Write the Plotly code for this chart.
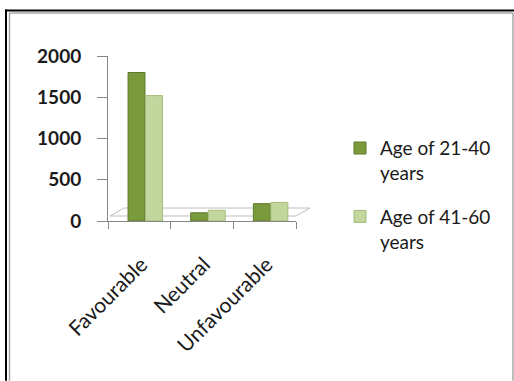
import plotly.graph_objects as go

categories = ["Favourable", "Neutral", "Unfavourable"]
series_names = ["Age of 21-40<br>years", "Age of 41-60<br>years"]
age_21_40 = [1800, 100, 210]
age_41_60 = [1520, 130, 225]
y_ticks = [0, 500, 1000, 1500, 2000]

W, H = 514, 381
L, R, T, B = 108, 296, 55.7, 221  # plot area in pixels

def px(x):
    return (x - L) / (R - L)

def py(y):
    return (B - y) / (B - T)

fig = go.Figure()
fig.add_trace(go.Bar(
    x=categories, y=age_21_40, name=series_names[0], legendgroup="g1",
    marker=dict(color="#7A9A3C", line=dict(color="#5E7A2C", width=1)),
    offset=-0.18, width=0.27,
))
fig.add_trace(go.Bar(
    x=categories, y=age_41_60, name=series_names[1], legendgroup="g2",
    marker=dict(color="#C2D69E", line=dict(color="#A3BC7C", width=1)),
    offset=0.10, width=0.27,
))

shapes = [
    # 3D floor
    dict(type="path", xref="paper", yref="paper", layer="below",
         path=f"M {px(110)},{py(216)} L {px(124)},{py(208)} L {px(310)},{py(208)} L {px(296)},{py(216)} Z",
         line=dict(color="#BFBFBF", width=1), fillcolor="white"),
    # outer black frame
    dict(type="line", xref="paper", yref="paper", x0=px(5), x1=px(514), y0=py(10), y1=py(10),
         line=dict(color="black", width=2)),
    dict(type="line", xref="paper", yref="paper", x0=px(6), x1=px(6), y0=py(9), y1=py(381),
         line=dict(color="black", width=2)),
    # inner gray frame
    dict(type="line", xref="paper", yref="paper", x0=px(9.5), x1=px(513), y0=py(12.5), y1=py(12.5),
         line=dict(color="#A6A6A6", width=1.5)),
    dict(type="line", xref="paper", yref="paper", x0=px(9.5), x1=px(9.5), y0=py(12.5), y1=py(381),
         line=dict(color="#A6A6A6", width=1.5)),
    dict(type="line", xref="paper", yref="paper", x0=px(513), x1=px(513), y0=py(12.5), y1=py(381),
         line=dict(color="#A6A6A6", width=1.5)),
]

fig.update_layout(
    width=W, height=H,
    margin=dict(l=L, r=W - R, t=T, b=H - B, pad=0),
    paper_bgcolor="white", plot_bgcolor="rgba(0,0,0,0)",
    barmode="overlay",
    showlegend=True,
    legend=dict(x=px(340), y=py(129), xanchor="left", yanchor="top",
                font=dict(family="Lato", size=19, color="#1a1a1a"),
                valign="top", tracegroupgap=16, bgcolor="rgba(0,0,0,0)"),
    shapes=shapes,
    xaxis=dict(
        type="category", range=[-0.5, 2.5],
        showline=True, linecolor="#868686", linewidth=1,
        ticks="outside", tickson="boundaries", ticklen=7, tickcolor="#868686",
        tickangle=-45, tickfont=dict(family="Lato", size=21, color="#1a1a1a"),
        ticklabelstandoff=22, ticklabelshift=2,
        showgrid=False, zeroline=False,
    ),
    yaxis=dict(
        range=[0, 2000], tickvals=y_ticks,
        showline=True, linecolor="#868686", linewidth=1,
        ticks="outside", ticklen=10, tickcolor="#868686",
        ticklabelstandoff=12,
        tickfont=dict(family="Lato", size=19, color="#1a1a1a", weight="bold"),
        showgrid=False, zeroline=False,
    ),
)

fig.write_html("out.html")
